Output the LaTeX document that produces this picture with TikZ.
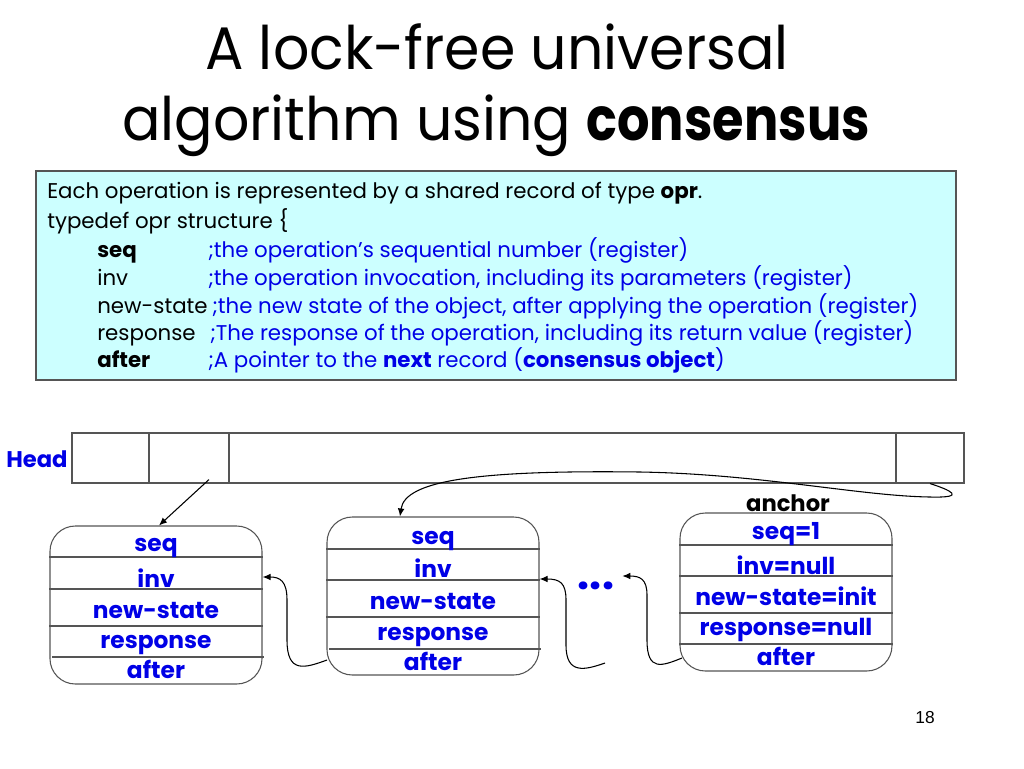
\documentclass[tikz,border=0pt]{standalone}
\usepackage{fontspec}
\setmainfont{Poppins}
\newfontfamily\titlefont[FakeStretch=0.95]{Poppins}
\newfontfamily\titlebold[FakeStretch=0.85]{Poppins Bold}
\newfontfamily\numfont{Liberation Sans}
\usetikzlibrary{arrows.meta,calc}
\definecolor{myblue}{RGB}{0,0,230}
\definecolor{boxfill}{RGB}{204,255,255}
\definecolor{edge}{RGB}{85,85,85}
\begin{document}
\begin{tikzpicture}[x=0.75pt,y=-0.75pt,
  titletext/.style={anchor=base, inner sep=0pt, font=\titlefont\fontsize{45}{50}\selectfont},
  infotext/.style={anchor=base west, inner sep=0pt, font=\fontsize{16}{19}\selectfont},
  desc/.style={infotext, text=myblue},
  fld/.style={anchor=base, inner sep=0pt, text=myblue, font=\fontsize{17.5}{20}\selectfont\bfseries},
  rec/.style={draw=edge, line width=0.8pt, rounded corners=19pt, minimum width=159pt, minimum height=118.5pt, inner sep=0pt},
  cell/.style={draw=edge, line width=0.8pt, minimum height=37.5pt, inner sep=0pt},
  divider/.style={draw=edge, line width=0.8pt},
  arr/.style={-{Latex[length=6pt,width=5pt]}, line width=0.8pt}]
\useasboundingbox (0,0) rectangle (1024,768);

% title
\node[titletext] (t1) at (497,69) {A lock-free universal};
\node[titletext] (t2) at (496,140) {algorithm using {\titlebold consensus}};

% info box
\node[draw=edge, fill=boxfill, line width=0.8pt, minimum width=690pt, minimum height=156.75pt, inner sep=0pt] (info) at (496,275.5) {};
\node[infotext] (l1) at (47,198) {Each operation is represented by a shared record of type \textbf{opr}.};
\node[infotext] (l2) at (47,228) {typedef opr structure \{};
\node[infotext] (k1) at (97,257) {\textbf{seq}};
\node[desc] (d1) at (208,257) {;the operation’s sequential number (register)};
\node[infotext] (k2) at (97,285) {inv};
\node[desc] (d2) at (208,285) {;the operation invocation, including its parameters (register)};
\node[infotext] (k3) at (97,313) {new-state};
\node[desc] (d3) at (212,313) {;the new state of the object, after applying the operation (register)};
\node[infotext] (k4) at (97,340) {response};
\node[desc] (d4) at (210,340) {;The response of the operation, including its return value (register)};
\node[infotext] (k5) at (97,367) {\textbf{after}};
\node[desc] (d5) at (208,367) {;A pointer to the \textbf{next} record (\textbf{consensus object})};

% head array
\node[anchor=base west, inner sep=0pt, text=myblue, font=\fontsize{17}{20}\selectfont\bfseries] (head) at (6,467) {Head};
\node[cell, minimum width=57.75pt] (hc1) at (110.5,458) {};
\node[cell, minimum width=60pt] (hc2) at (189,458) {};
\node[cell, minimum width=500.25pt] (hc3) at (562.5,458) {};
\node[cell, minimum width=51pt] (hc4) at (930,458) {};

% records
\node[rec] (r1) at (156,605) {};
\node[rec] (r2) at (433,596) {};
\node[rec] (r3) at (786,592) {};

\foreach \y in {557,589,626} \draw[divider] (r1.west |- 0,\y) -- (r1.east |- 0,\y);
\draw[divider] ($(r1.west |- 0,657)+(3,0)$) -- ($(r1.east |- 0,657)+(1,0)$);
\foreach \y in {549,580,617} \draw[divider] (r2.west |- 0,\y) -- (r2.east |- 0,\y);
\draw[divider] ($(r2.west |- 0,649)+(3,0)$) -- ($(r2.east |- 0,649)+(1,0)$);
\foreach \y in {545,576,613,644} \draw[divider] (r3.west |- 0,\y) -- (r3.east |- 0,\y);

\node[fld] (r1a) at (156,551) {seq};
\node[fld] (r1b) at (156,587) {inv};
\node[fld] (r1c) at (156,618) {new-state};
\node[fld] (r1d) at (156,648) {response};
\node[fld] (r1e) at (156,678) {after};

\node[fld] (r2a) at (433,544) {seq};
\node[fld] (r2b) at (433,577) {inv};
\node[fld] (r2c) at (433,609) {new-state};
\node[fld] (r2d) at (433,640) {response};
\node[fld] (r2e) at (433,670) {after};

\node[fld, text=black, font=\fontsize{17}{20}\selectfont\bfseries] (anc) at (788,511) {anchor};
\node[fld] (r3a) at (786,539) {seq=1};
\node[fld] (r3b) at (786,574) {inv=null};
\node[fld] (r3c) at (786,605) {new-state=init};
\node[fld] (r3d) at (786,635) {response=null};
\node[fld] (r3e) at (786,665) {after};

\node[anchor=base, inner sep=0pt, text=myblue, font=\fontsize{32}{34}\selectfont\bfseries] (dots) at (596,589) {...};

% connectors
\draw[arr] ($(hc2.south)+(20,-4)$) -- ($(r1.north)+(3,0)$);
\draw[arr] (hc4.south) .. controls (950,490) and (968,498) .. (930,497)
  .. controls (860,496) and (760,474) .. (640,472)
  .. controls (480,470) and (405,480) .. ($(r2.north)+(-33,0)$);
\coordinate (s2) at (327,660);
\draw[arr] (s2) .. controls (305,668) and (287,674) .. (287,640) -- (287,600)
  .. controls (287,581) and (280,577) .. (r1.east |- 0,577);
\coordinate (s3) at (605,663);
\draw[arr] (s3) .. controls (585,670) and (566,675) .. (566,645) -- (566,600)
  .. controls (566,583) and (560,579) .. (r2.east |- 0,579);
\coordinate (s4) at (682,658);
\draw[arr] (s4) .. controls (662,666) and (647,672) .. (647,640) -- (647,595)
  .. controls (647,579) and (640,576) .. ($(dots.east |- 0,576)+(8,0)$);

\node[anchor=base, inner sep=0pt, font=\numfont\fontsize{13}{15}\selectfont] (pg) at (925,723) {18};
\end{tikzpicture}
\end{document}
